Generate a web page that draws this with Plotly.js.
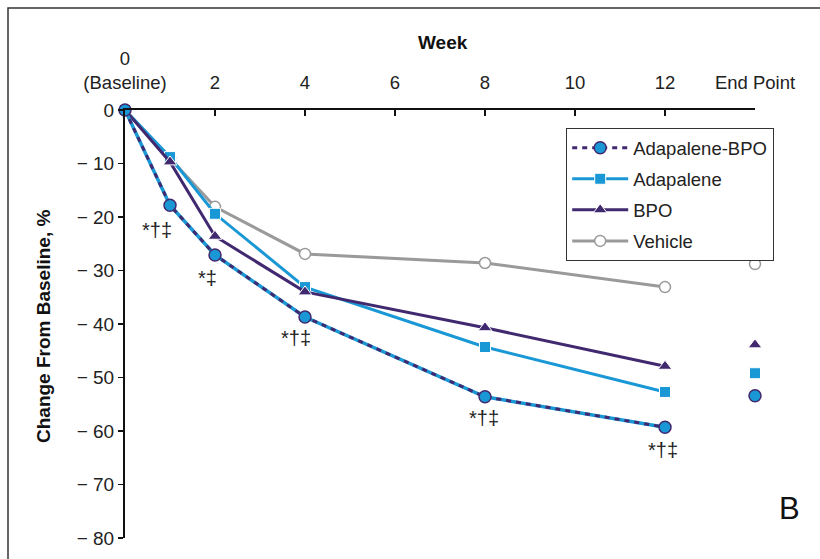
<!DOCTYPE html>
<html>
<head>
<meta charset="utf-8">
<script src="https://cdn.plot.ly/plotly-3.0.1.min.js"></script>
<style>html,body{margin:0;padding:0;background:#fff;}#chart{width:820px;height:559px;}</style>
</head>
<body>
<div id="chart"></div>
<script>
// Weeks (End Point plotted at position 14)
const weeks = [0, 1, 2, 4, 8, 12];
const endPointX = [14];
const tickVals = [0, 2, 4, 6, 8, 10, 12, 14];
const tickLabels = ['0<br>(Baseline)', '2', '4', '6', '8', '10', '12', 'End Point'];
const yTickVals = [0, -10, -20, -30, -40, -50, -60, -70, -80];
const yTickLabels = ['0', '\u2212 10', '\u2212 20', '\u2212 30', '\u2212 40', '\u2212 50', '\u2212 60', '\u2212 70', '\u2212 80'];

const adaBpo = [0, -17.8, -27.1, -38.7, -53.6, -59.3];
const adaBpoEnd = [-53.4];
const adapalene = [0, -8.8, -19.4, -33.1, -44.3, -52.7];
const adapaleneEnd = [-49.2];
const bpo = [0, -9.7, -23.6, -34.0, -40.7, -47.9];
const bpoEnd = [-43.9];
const vehicle = [0, -9.0, -18.1, -26.9, -28.6, -33.1];
const vehicleEnd = [-28.8];

// significance labels
const sigX = [0.71, 1.83, 3.8, 7.98, 11.96, 14.62];
const sigY = [-22.4, -31.4, -42.6, -57.6, -63.6, -53.3];
const sigText = ['*\u2020\u2021', '*\u2021', '*\u2020\u2021', '*\u2020\u2021', '*\u2020\u2021', '*\u2020\u2021'];

const BLUE = '#1a98d5';
const PURPLE = '#41296f';
const GRAY = '#9a9a9a';
const FONT = 'Liberation Sans, Arial, Helvetica, sans-serif';

const traces = [
  {x: weeks, y: vehicle, mode: 'lines+markers', name: 'Vehicle', legendrank: 4, legendgroup: 'd',
   line: {color: GRAY, width: 3}, marker: {symbol: 'circle', size: 11, color: '#fff', line: {color: GRAY, width: 1.5}}, cliponaxis: false},
  {x: weeks, y: adapalene, mode: 'lines+markers', name: 'Adapalene', legendrank: 2, legendgroup: 'b',
   line: {color: BLUE, width: 3}, marker: {symbol: 'square', size: 11, color: BLUE, line: {color: '#fff', width: 1}}, cliponaxis: false},
  {x: weeks, y: bpo, mode: 'lines+markers', name: 'BPO', legendrank: 3, legendgroup: 'c',
   line: {color: PURPLE, width: 3}, marker: {symbol: 'triangle-up', size: 12, color: PURPLE, line: {color: '#fff', width: 1}}, cliponaxis: false},
  {x: weeks, y: adaBpo, mode: 'lines', name: 'Adapalene-BPO', showlegend: false, legendgroup: 'a',
   line: {color: BLUE, width: 3.5}, cliponaxis: false},
  {x: weeks, y: adaBpo, mode: 'lines+markers', name: 'Adapalene-BPO', legendrank: 1, legendgroup: 'a',
   line: {color: PURPLE, width: 3, dash: '5px,5px'}, marker: {symbol: 'circle', size: 12, color: BLUE, line: {color: PURPLE, width: 1.5}}, cliponaxis: false},
  // end point markers (not connected)
  {x: endPointX, y: vehicleEnd, mode: 'markers', showlegend: false, cliponaxis: false,
   marker: {symbol: 'circle', size: 11, color: '#fff', line: {color: GRAY, width: 1.5}}},
  {x: endPointX, y: adapaleneEnd, mode: 'markers', showlegend: false, cliponaxis: false,
   marker: {symbol: 'square', size: 11, color: BLUE, line: {color: '#fff', width: 1}}},
  {x: endPointX, y: bpoEnd, mode: 'markers', showlegend: false, cliponaxis: false,
   marker: {symbol: 'triangle-up', size: 12, color: PURPLE, line: {color: '#fff', width: 1}}},
  {x: endPointX, y: adaBpoEnd, mode: 'markers', showlegend: false, cliponaxis: false,
   marker: {symbol: 'circle', size: 12, color: BLUE, line: {color: PURPLE, width: 1.5}}}
];

const annotations = sigX.map((x, i) => ({
  x: x, y: sigY[i], xref: 'x', yref: 'y', text: sigText[i], showarrow: false,
  xanchor: 'center', yanchor: 'middle',
  font: {family: FONT, size: 20, color: '#222'}
}));
annotations.push({x: (443 - 125) / 630, y: 1 + (110 - 42) / 428, xref: 'paper', yref: 'paper', text: '<b>Week</b>',
  xanchor: 'center', yanchor: 'middle', showarrow: false, font: {family: FONT, size: 19, color: '#111'}});
annotations.push({x: (43 - 125) / 630, y: (538 - 327) / 428, xref: 'paper', yref: 'paper', text: '<b>Change From Baseline, %</b>',
  xanchor: 'center', yanchor: 'middle', textangle: -90, showarrow: false, font: {family: FONT, size: 19, color: '#111'}});
annotations.push({x: (789 - 125) / 630, y: (538 - 508) / 428, xref: 'paper', yref: 'paper', text: 'B',
  xanchor: 'center', yanchor: 'middle', showarrow: false, font: {family: FONT, size: 31, color: '#111'}});

const layout = {
  width: 820, height: 559,
  margin: {l: 125, r: 65, t: 110, b: 21, pad: 0},
  paper_bgcolor: '#fff', plot_bgcolor: '#fff',
  font: {family: FONT, color: '#222'},
  showlegend: true,
  legend: {x: (566 - 125) / 630, y: 1 - (128 - 110) / 428, xanchor: 'left', yanchor: 'top',
    bgcolor: '#fff', bordercolor: '#333', borderwidth: 1.2,
    font: {family: FONT, size: 18.5, color: '#222'}, tracegroupgap: 4, itemwidth: 56,
    traceorder: 'grouped'},
  xaxis: {side: 'top', range: [0, 14], tickvals: tickVals, ticktext: tickLabels,
    showgrid: false, zeroline: false, showline: true, linecolor: '#111', linewidth: 2,
    ticks: 'inside', ticklen: 6, tickwidth: 1.5, tickcolor: '#111', ticklabelstandoff: 12,
    tickfont: {family: FONT, size: 18.5, color: '#222'}, fixedrange: true},
  yaxis: {range: [-80, 0], tickvals: yTickVals, ticktext: yTickLabels,
    showgrid: false, zeroline: false, showline: true, linecolor: '#111', linewidth: 2,
    ticks: 'outside', ticklen: 5, tickwidth: 1.5, tickcolor: '#111',
    tickfont: {family: FONT, size: 19, color: '#222'}, fixedrange: true},
  shapes: [{type: 'rect', xref: 'paper', yref: 'paper',
    x0: (8 - 125) / 630, x1: (900 - 125) / 630, y0: (538 - 600) / 428, y1: 1 + (110 - 8) / 428,
    line: {color: '#333', width: 1.5}, fillcolor: 'rgba(0,0,0,0)', layer: 'below'}],
  annotations: annotations
};

Plotly.newPlot('chart', traces, layout, {displayModeBar: false, staticPlot: true});
</script>
</body>
</html>
